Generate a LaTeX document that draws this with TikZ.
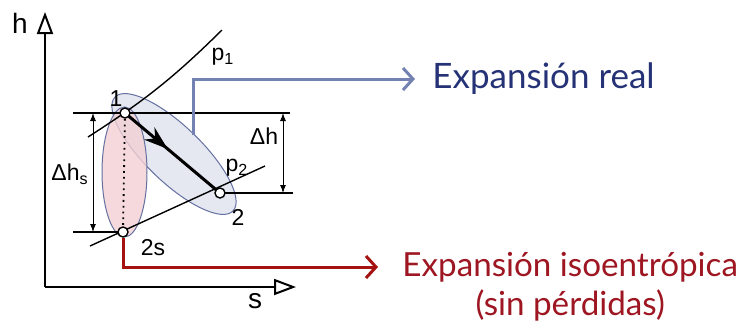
\documentclass[tikz,border=0pt]{standalone}
\usepackage{fontspec}
\setmainfont{Liberation Sans}
\newfontfamily\calloutfont{Lato}
\usetikzlibrary{arrows.meta, positioning}
\usetikzlibrary{decorations.markings}
\definecolor{realblue}{RGB}{116,130,178}
\definecolor{realtext}{RGB}{38,50,118}
\definecolor{isored}{RGB}{165,18,18}
\definecolor{isotext}{RGB}{158,22,34}
\definecolor{ellline}{RGB}{100,112,160}
\definecolor{pinkfill}{RGB}{242,208,212}
\definecolor{bluefill}{RGB}{226,229,240}
\tikzset{
	axis/.style={line width=1pt, -{Triangle[open, length=11pt, width=8pt, line width=1pt]}},
	isobar/.style={line width=0.7pt},
	level/.style={line width=0.7pt},
	dim/.style={line width=0.5pt, {Latex[length=4pt,width=3pt]}-{Latex[length=4pt,width=3pt]}},
	state/.style={circle, draw, fill=white, line width=0.7pt, inner sep=0pt, minimum size=5pt},
	process/.style={line width=1.5pt, postaction={decorate},
		decoration={markings, mark=at position .45 with {\arrow{Stealth[length=12pt,width=8pt]}}}},
	realpath/.style={line width=1.5pt, realblue, -{Straight Barb[length=5pt, width=11pt]}},
	isopath/.style={line width=1.5pt, isored, -{Straight Barb[length=5pt, width=11pt]}},
	lbl/.style={font=\fontsize{11.5}{13}\selectfont, inner sep=1pt},
	callout/.style={font=\calloutfont\fontsize{17.5}{20}\selectfont, inner xsep=8.5pt, anchor=west},
	isofont/.style={font=\calloutfont\fontsize{16.6}{19}\selectfont, text=isotext}
}

\begin{document}
\begin{tikzpicture}[x=0.5pt, y=-0.5pt]
\useasboundingbox (0,0) rectangle (756,328);
% expansion zones
\filldraw [fill=bluefill, draw=ellline, line width=0.5pt, fill opacity=0.9, rotate around={-44:(174,154)}] (174,154) ellipse [x radius=41pt, y radius=14pt];
\filldraw [fill=pinkfill, draw=ellline, line width=0.5pt, fill opacity=0.8] (124.5,172) ellipse [x radius=11.25pt, y radius=32.5pt];

% axes
\coordinate (orig) at (45,287);
\coordinate (htip) at (45,12);
\coordinate (stip) at (296,287);
\draw [axis] (orig) -- (htip);
\draw [axis] (orig) -- (stip);
\node [font=\fontsize{14}{16}\selectfont] (hlab) at (20,23) {h};
\node [font=\fontsize{14}{16}\selectfont] (slab) at (255,301) {s};

% states
\coordinate (st1) at (125,113);
\coordinate (st2) at (220,193);
\coordinate (st2s) at (123,232);

% isobars
\coordinate (iso1a) at (88,137);
\coordinate (iso1b) at (222,30);
\coordinate (iso2a) at (90,246);
\coordinate (iso2b) at (265,166);
\draw [isobar] (iso1a) to[bend right=6] (iso1b);
\draw [isobar] (iso2a) -- (iso2b);
\node [lbl] (p1lab) at (223,57) {p\textsubscript{1}};
\node [lbl] (p2lab) at (237,168) {p\textsubscript{2}};

% enthalpy levels
\coordinate (lv1a) at (73,113);
\coordinate (lv1b) at (290,113);
\coordinate (lv2b) at (293,193);
\coordinate (lv2sa) at (73,232);
\draw [level] (lv1a) -- (lv1b);
\draw [level] (st2) -- (lv2b);
\draw [level] (lv2sa) -- (st2s);

% dimensions
\coordinate (dhsa) at (93,113);
\coordinate (dhsb) at (93,232);
\coordinate (dha) at (283,113);
\coordinate (dhb) at (283,193);
\draw [dim] (dhsa) -- (dhsb);
\draw [dim] (dha) -- (dhb);
\node [lbl] (dhslab) at (70,174) {Δh\textsubscript{s}};
\node [lbl] (dhlab) at (264,136) {Δh};

% processes
\draw [dotted, line width=0.9pt] (st1) -- (st2s);
\draw [process] (st1) -- (st2);
\node [state] (n1) at (st1) {};
\node [state] (n2) at (st2) {};
\node [state] (n2s) at (st2s) {};
\node [lbl] (l1) at (116,99) {1};
\node [lbl] (l2) at (238,217) {2};
\node [lbl] (l2s) at (153,248) {2s};

% callouts
\coordinate (realstart) at (193,135);
\node [callout, text=realtext] (realtxt) at (415,79) {Expansión real};
\draw [realpath] (realstart) |- (realtxt.west);
\node [callout, isofont, inner xsep=12pt] (isotxt) at (378,267) {Expansión isoentrópica};
\node [isofont, below=-3pt of isotxt] (isonote) {(sin pérdidas)};
\draw [isopath] (n2s.south) |- (isotxt.west);
\end{tikzpicture}
\end{document}
